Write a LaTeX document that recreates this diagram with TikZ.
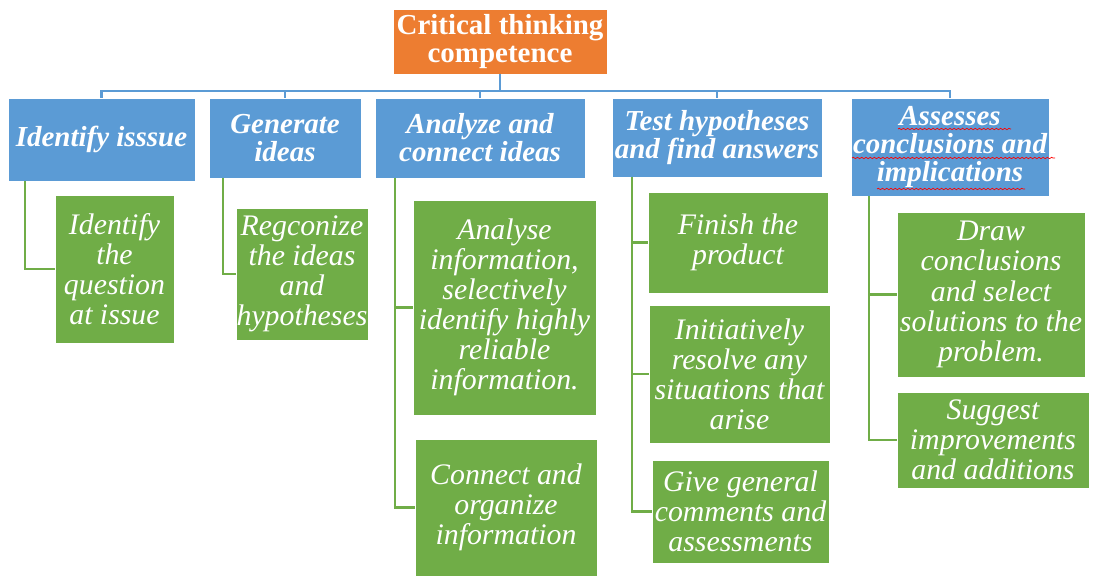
\documentclass[tikz,border=0pt]{standalone}
\usepackage{fontspec}
\setmainfont{Liberation Serif}
\usetikzlibrary{decorations.pathmorphing}
\definecolor{rootorange}{HTML}{ED7D31}
\definecolor{headblue}{HTML}{5B9BD5}
\definecolor{itemgreen}{HTML}{70AD47}
\begin{document}
\begin{tikzpicture}[x=0.025cm,y=-0.025cm,line width=2pt,
  box/.style 2 args={rectangle,inner sep=0pt,outer sep=0pt,draw=white,line width=0.4pt,
    text=white,align=center,minimum width=#1*0.025cm,minimum height=#2*0.025cm},
  top/.style 2 args={box={#1}{#2},fill=rootorange,font=\fontsize{20.6}{19.9}\selectfont\bfseries},
  head/.style 2 args={box={#1}{#2},fill=headblue,font=\fontsize{20.6}{19.9}\selectfont\bfseries\itshape},
  item/.style 2 args={box={#1}{#2},fill=itemgreen,font=\fontsize{21.2}{21.4}\selectfont\itshape},
  bus/.style={draw=headblue},
  branch/.style={draw=itemgreen},
  typo/.style={draw=red,line width=0.5pt,decorate,
    decoration={snake,amplitude=0.5pt,segment length=3pt}}]
 \useasboundingbox (0,0) rectangle (1093,576);
 \node[top={214}{65}] (root) at (500,41.5) {Critical thinking\\competence};
 \node[head={187}{83}] (issue) at (101.5,139.5) {Identify isssue};
 \node[head={152}{80}] (ideas) at (285,138) {Generate\\ideas};
 \node[head={210}{80}] (analyze) at (480,138) {Analyze and\\connect ideas};
 \node[head={210}{79}] (test) at (717,137.5) {Test hypotheses\\and find answers};
 \node[head={198}{98}] (assess) at (950,147) {Assesses\\conclusions and\\implications};
 \node[item={119}{148}] (q1) at (114.5,269) {Identify\\the\\question\\at issue};
 \node[item={132}{132}] (r1) at (302,274) {Regconize\\the ideas\\and\\hypotheses};
 \node[item={183}{215}] (a1) at (504.5,307.5) {Analyse\\information,\\selectively\\identify highly\\reliable\\information.};
 \node[item={182}{137}] (a2) at (506,507.5) {Connect and\\organize\\information};
 \node[item={180}{101}] (t1) at (738,242.5) {Finish the\\product};
 \node[item={181}{138}] (t2) at (739.5,374) {Initiatively\\resolve any\\situations that\\arise};
 \node[item={177}{103}] (t3) at (740.5,511.5) {Give general\\comments and\\assessments};
 \node[item={188}{165}] (s1) at (991,294.5) {Draw\\conclusions\\and select\\solutions to the\\problem.};
 \node[item={192}{96}] (s2) at (993,440) {Suggest\\improvements\\and additions};
 \foreach \h in {issue,ideas,analyze,test,assess}
   \draw[bus] (root.south) -- ++(0,17) -| (\h.north);
 \foreach \p/\d/\kids in {issue/17/{q1},ideas/14/{r1},analyze/20/{a1,a2},test/20/{t1,t2,t3},assess/18/{s1,s2}}
   \foreach \k in \kids
     \draw[branch] (\p.south west) ++(\d,0) |- (\k.west);
 \draw[typo] (898,129) -- (1011,129);
 \draw[typo] (852,158) -- (1055,158);
 \draw[typo] (877,189) -- (1025,189);
\end{tikzpicture}
\end{document}
